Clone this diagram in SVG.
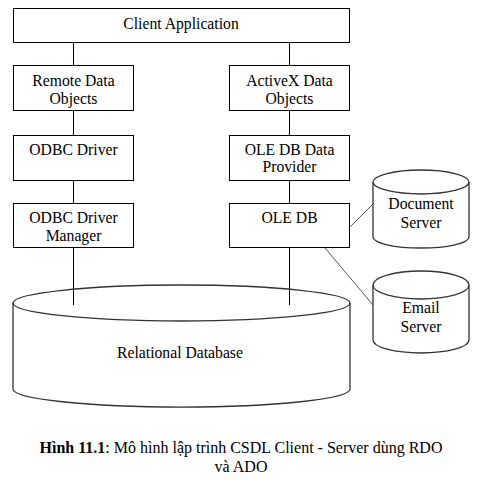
<svg xmlns="http://www.w3.org/2000/svg" width="481" height="482" viewBox="0 0 481 482">
<style>
.box{fill:#fff;stroke:#000;stroke-width:1}
.cyl{fill:#fff;stroke:#333;stroke-width:1.3}
.t{font-family:"Liberation Serif","DejaVu Serif",serif;font-size:15.7px;fill:#000;text-anchor:middle}
.cap{font-size:16px}
.c{stroke:#000;stroke-width:1;fill:none}
.g{stroke:#555;stroke-width:1;fill:none}
</style>
<rect width="481" height="482" fill="#fff"/>
<g id="connectors">
<path class="c" d="M73.5 42V65M73.5 111V135M73.5 181V203M73.5 248V305"/>
<path class="c" d="M289.5 42V65M289.5 111V135M289.5 181V203M289.5 248V305"/>
<path class="g" d="M350 227L373 204M325 248L373 305"/>
</g>
<g id="relational-database">
<path class="cyl" d="M13 303V389A168 18 0 0 0 350 389V303"/>
<ellipse cx="181.5" cy="303" rx="168.5" ry="18" fill="none" stroke="#333" stroke-width="1.3"/>
<text class="t" x="180" y="358">Relational Database</text>
</g>
<g id="connectors-over">
<path class="c" d="M73.5 285V305M289.5 285V305"/>
</g>
<g id="client-application">
<rect class="box" x="13.5" y="8.5" width="336" height="34"/>
<text class="t" x="181" y="29">Client Application</text>
</g>
<g id="remote-data-objects">
<rect class="box" x="13.5" y="65.5" width="120" height="45"/>
<text class="t" x="73.5" y="86">Remote Data</text>
<text class="t" x="73.5" y="104">Objects</text>
</g>
<g id="activex-data-objects">
<rect class="box" x="229.5" y="65.5" width="120" height="45"/>
<text class="t" x="289.5" y="86">ActiveX Data</text>
<text class="t" x="289.5" y="104">Objects</text>
</g>
<g id="odbc-driver">
<rect class="box" x="13.5" y="135.5" width="120" height="45"/>
<text class="t" x="73.5" y="155">ODBC Driver</text>
</g>
<g id="ole-db-data-provider">
<rect class="box" x="229.5" y="135.5" width="120" height="45"/>
<text class="t" x="289.5" y="155">OLE DB Data</text>
<text class="t" x="289.5" y="172">Provider</text>
</g>
<g id="odbc-driver-manager">
<rect class="box" x="13.5" y="203.5" width="120" height="44"/>
<text class="t" x="73.5" y="223">ODBC Driver</text>
<text class="t" x="73.5" y="241">Manager</text>
</g>
<g id="ole-db">
<rect class="box" x="229.5" y="203.5" width="120" height="44"/>
<text class="t" x="289.5" y="223">OLE DB</text>
</g>
<g id="document-server">
<path class="cyl" d="M373 182V237A48 11 0 0 0 469 237V182"/>
<ellipse class="cyl" cx="421" cy="182" rx="48" ry="12"/>
<text class="t" x="421" y="209">Document</text>
<text class="t" x="421" y="228">Server</text>
</g>
<g id="email-server">
<path class="cyl" d="M373 285V340A48 13 0 0 0 469 340V285"/>
<ellipse class="cyl" cx="421" cy="285" rx="48" ry="14"/>
<text class="t" x="421" y="313">Email</text>
<text class="t" x="421" y="332">Server</text>
</g>
<g id="caption">
<text class="t cap" x="241" y="453"><tspan font-weight="bold">Hình 11.1</tspan>: Mô hình lập trình CSDL Client - Server dùng RDO</text>
<text class="t cap" x="241" y="472">và ADO</text>
</g>
</svg>
